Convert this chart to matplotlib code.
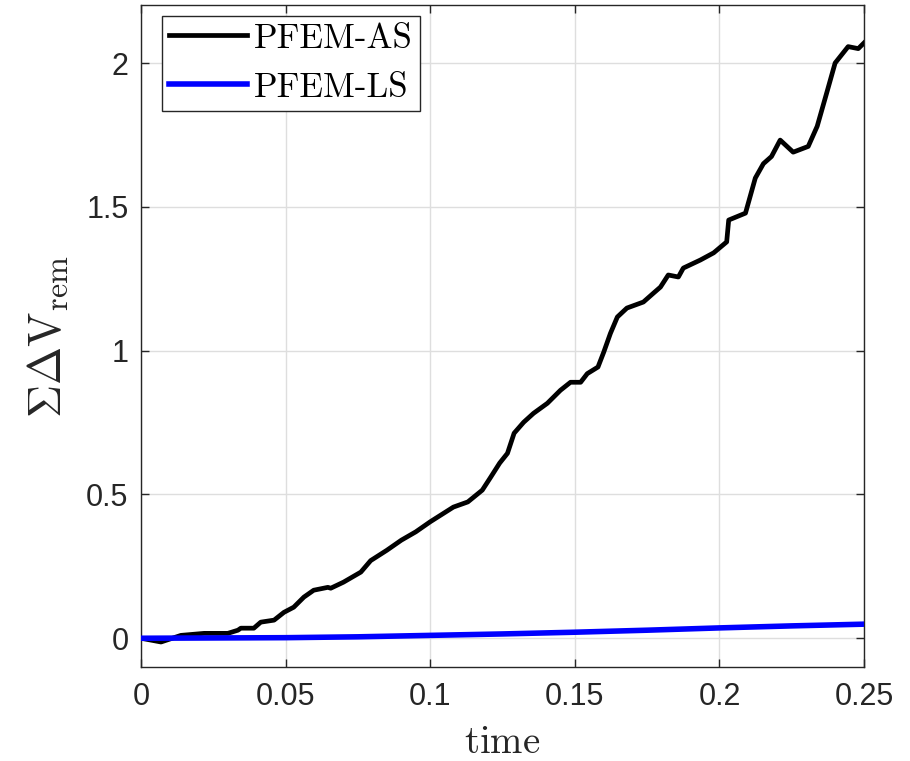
import matplotlib
matplotlib.use("Agg")
import matplotlib.pyplot as plt

# Cumulative removed volume over time for the two PFEM variants
time_as = [0, 0.0069, 0.0138, 0.0218, 0.030, 0.0335, 0.0345, 0.039, 0.0414, 0.046,
           0.0494, 0.0528, 0.0563, 0.0597, 0.0646, 0.0656, 0.070, 0.076, 0.0794,
           0.085, 0.090, 0.095, 0.100, 0.108, 0.113, 0.118, 0.1209, 0.124, 0.1267,
           0.129, 0.1323, 0.1357, 0.1405, 0.145, 0.1485, 0.152, 0.1543, 0.158, 0.160,
           0.1623, 0.1647, 0.168, 0.1737, 0.1772, 0.1796, 0.1823, 0.1858, 0.1875,
           0.1934, 0.198, 0.2025, 0.2032, 0.209, 0.2124, 0.2152, 0.218, 0.221,
           0.2255, 0.2307, 0.2338, 0.2372, 0.240, 0.2445, 0.248, 0.250]
vol_as = [0, -0.013, 0.010, 0.017, 0.017, 0.028, 0.035, 0.035, 0.056, 0.063,
          0.090, 0.108, 0.143, 0.167, 0.177, 0.174, 0.195, 0.230, 0.270,
          0.306, 0.341, 0.370, 0.405, 0.456, 0.474, 0.515, 0.560, 0.609, 0.643,
          0.713, 0.751, 0.782, 0.817, 0.862, 0.890, 0.890, 0.920, 0.943, 0.995,
          1.060, 1.117, 1.148, 1.169, 1.200, 1.221, 1.263, 1.256, 1.287,
          1.315, 1.340, 1.378, 1.454, 1.478, 1.600, 1.650, 1.675, 1.732,
          1.690, 1.710, 1.780, 1.900, 2.000, 2.057, 2.050, 2.070]

time_ls = [0, 0.025, 0.05, 0.075, 0.1, 0.125, 0.15, 0.175, 0.2, 0.225, 0.25]
vol_ls = [0, 0.001, 0.002, 0.005, 0.010, 0.015, 0.021, 0.028, 0.036, 0.043, 0.049]

xticks = [0, 0.05, 0.1, 0.15, 0.2, 0.25]
xticklabels = ["0", "0.05", "0.1", "0.15", "0.2", "0.25"]
yticks = [0, 0.5, 1, 1.5, 2]
yticklabels = ["0", "0.5", "1", "1.5", "2"]

plt.rcParams["mathtext.fontset"] = "cm"
plt.rcParams["font.family"] = ["Liberation Sans", "DejaVu Sans"]

dark = "#262626"
fig = plt.figure(figsize=(9.1, 7.61), dpi=100)
ax = fig.add_axes([0.155, 0.1235, 0.7945, 0.8693])

ax.plot(time_as, vol_as, color="black", lw=3.4, label="PFEM-AS", zorder=3)
ax.plot(time_ls, vol_ls, color="#0000ff", lw=4.0, label="PFEM-LS", zorder=4)

ax.set_xlim(0, 0.25)
ax.set_ylim(-0.1, 2.2)
ax.set_xticks(xticks)
ax.set_xticklabels(xticklabels)
ax.set_yticks(yticks)
ax.set_yticklabels(yticklabels)

ax.grid(True, color="#dedede", lw=1.0)
ax.set_axisbelow(True)
ax.tick_params(direction="in", length=5.5, width=1.0, color=dark, labelcolor=dark,
               labelsize=22, top=True, right=True)
ax.tick_params(axis="x", pad=11)
ax.tick_params(axis="y", pad=9)
for s in ax.spines.values():
    s.set_color(dark)
    s.set_linewidth(1.0)

ax.set_xlabel(r"$\mathrm{time}$", fontsize=28, color=dark, labelpad=9)
ax.set_ylabel(r"$\Sigma\Delta \mathrm{V}_{\mathrm{rem}}$", fontsize=33, color=dark, labelpad=11)

leg = ax.legend(loc="upper left", bbox_to_anchor=(0.029, 0.984), borderaxespad=0,
                prop={"family": "cmr10", "size": 25},
                frameon=True, fancybox=False, framealpha=1, edgecolor=dark,
                handlelength=2.25, handletextpad=0.2, borderpad=0.2,
                labelspacing=0.5)
leg.get_frame().set_linewidth(1.0)

fig.savefig("out.png", dpi=100)
